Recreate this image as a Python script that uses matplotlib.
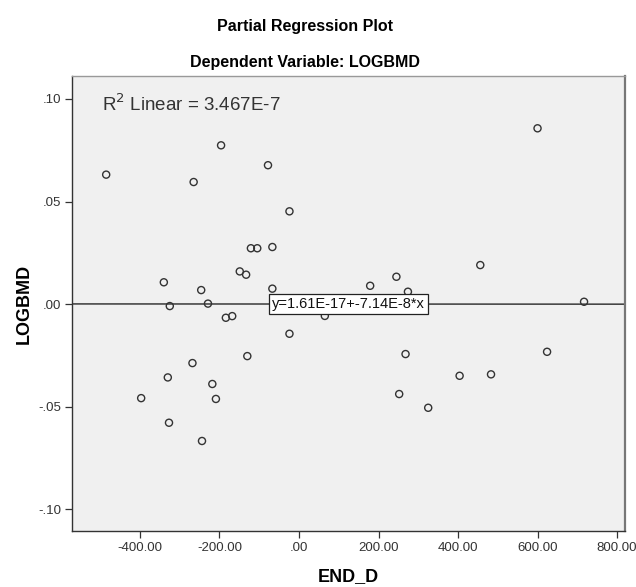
import numpy as np
import matplotlib.pyplot as plt
import matplotlib.transforms as mtransforms

plt.rcParams['font.family'] = ['Liberation Sans', 'DejaVu Sans']

# partial residuals: END_D (x) against LOGBMD (y)
end_d = [-485, -196, -78, -265, -24, -121, -105, -67, -149, -133,
         -340, -246, -67, -325, -229, -184, -168, 65, -24, -130,
         -268, -330, -218, -397, -209, -327, -244, 600, 456, 245,
         179, 274, 717, 268, 624, 404, 483, 252, 325]
logbmd = [0.0631, 0.0774, 0.0677, 0.0595, 0.0452, 0.0272, 0.0272, 0.0278, 0.0159, 0.0143,
          0.0106, 0.0068, 0.0075, -0.0010, 0.0002, -0.0067, -0.0059, -0.0058, -0.0145, -0.0254,
          -0.0288, -0.0358, -0.0390, -0.0459, -0.0463, -0.0579, -0.0668, 0.0857, 0.0190, 0.0133,
          0.0089, 0.0060, 0.0011, -0.0244, -0.0233, -0.0350, -0.0343, -0.0439, -0.0506]

intercept = 1.61e-17
slope = -7.14e-8
r2_label = 'R$^2$ Linear = 3.467E-7'
fit_label = 'y=1.61E-17+-7.14E-8*x'

xticks = [-400, -200, 0, 200, 400, 600, 800]
xticklabels = ['-400.00', '-200.00', '.00', '200.00', '400.00', '600.00', '800.00']
yticks = [-0.10, -0.05, 0.0, 0.05, 0.10]
yticklabels = ['-.10', '-.05', '.00', '.05', '.10']

fig = plt.figure(figsize=(6.36, 5.87), dpi=100)
ax = fig.add_axes([0.1132, 0.0954, 0.8695, 0.7751])
ax.set_facecolor('#f0f0f0')

ax.set_xlim(-571, 820)
ax.set_ylim(-0.1107, 0.1112)

xs = np.array(ax.get_xlim())
ax.plot(xs, intercept + slope * xs, color='#111111', lw=0.9, zorder=2)

ax.scatter(end_d, logbmd, s=26, facecolors='none', edgecolors='#333333',
           linewidths=1.0, zorder=3)

trans = mtransforms.blended_transform_factory(ax.transAxes, ax.transData)
ax.text(0.5, 0.0, fit_label, transform=trans, ha='center', va='center',
        fontsize=10.5, color='#111111', zorder=4,
        bbox=dict(boxstyle='square,pad=0.2', fc='white', ec='#222222', lw=0.9))

ax.text(0.054, 0.937, r2_label, transform=ax.transAxes, ha='left', va='center',
        fontsize=13.5, color='#333333')

ax.set_xticks(xticks)
ax.set_xticklabels(xticklabels)
ax.set_yticks(yticks)
ax.set_yticklabels(yticklabels)
ax.tick_params(direction='out', length=5, width=0.9, color='#333333',
               labelsize=9.5, labelcolor='#333333', pad=3)

for side in ['left', 'bottom']:
    ax.spines[side].set_color('#333333')
    ax.spines[side].set_linewidth(1.0)
ax.spines['top'].set_color('#999999')
ax.spines['top'].set_linewidth(1.0)
ax.spines['right'].set_color('#777777')
ax.spines['right'].set_linewidth(1.6)

ax.set_xlabel('END_D', fontsize=13, fontweight='bold', labelpad=10)
ax.set_ylabel('LOGBMD', fontsize=13, fontweight='bold', labelpad=4)

fig.text(0.479, 1 - 27 / 587, 'Partial Regression Plot', ha='center', va='center',
         fontsize=11.5, fontweight='bold')
fig.text(0.479, 1 - 63 / 587, 'Dependent Variable: LOGBMD', ha='center', va='center',
         fontsize=11.5, fontweight='bold')

fig.savefig('out.png', dpi=100)
